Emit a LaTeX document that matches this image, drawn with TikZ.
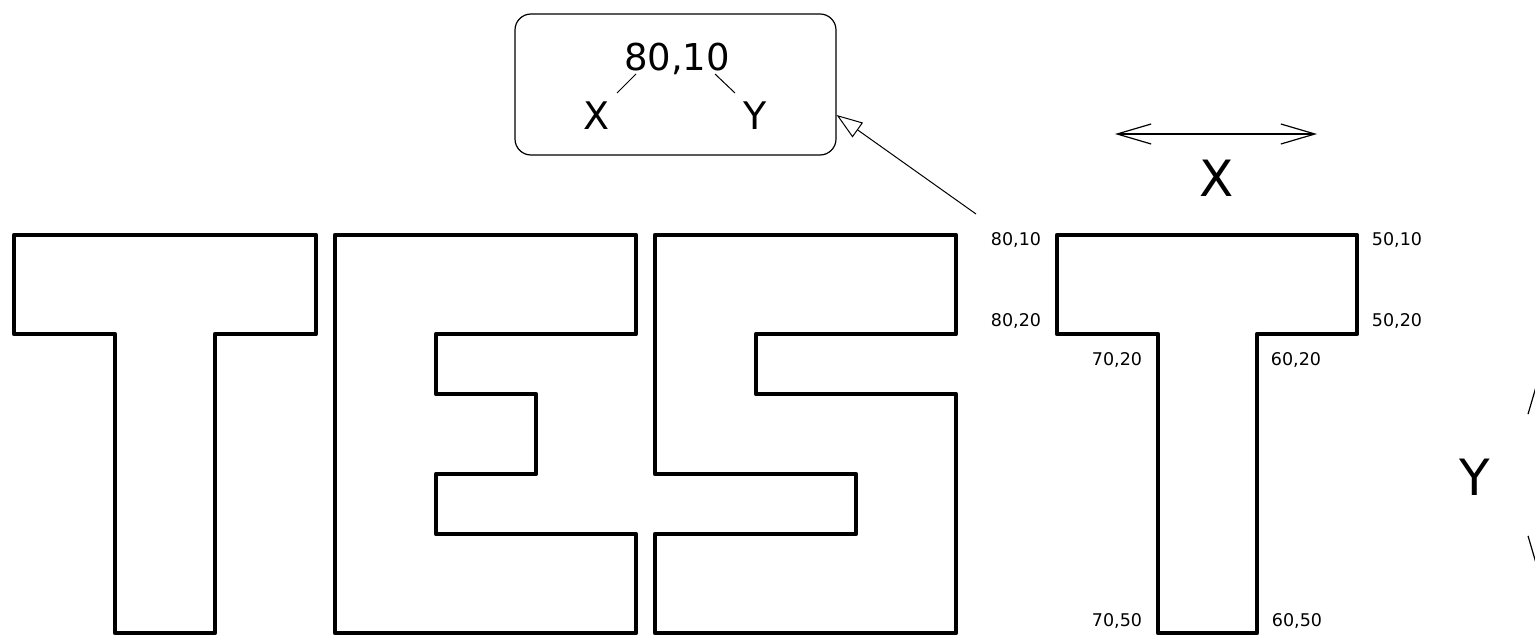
\documentclass[tikz,border=0pt]{standalone}
\usepackage{fontspec}
\setmainfont{DejaVu Sans}
\usetikzlibrary{arrows.meta}

\begin{document}
\begin{tikzpicture}[x=1bp, y=-1bp, every node/.style={inner sep=0pt}]
  \tikzstyle{lettre}=[line width=4.8bp, line join=round]
  \tikzstyle{fleche}=[line width=1bp, -{Triangle[open, length=26bp, width=18bp]}]
  \tikzstyle{axe}=[line width=1.2bp, {Straight Barb[length=34bp, width=20bp]}-{Straight Barb[length=34bp, width=20bp]}]
  \tikzstyle{petit}=[font=\fontsize{17.5bp}{20bp}\selectfont, anchor=base]
  \useasboundingbox (0,0) rectangle (1535,635);
  \clip (0,0) rectangle (1535,635);
  % lettres
  \draw[lettre] (14,235) -- (316,235) -- (316,334) -- (215,334) -- (215,633) -- (115,633) -- (115,334) -- (14,334) -- cycle;
  \draw[lettre] (335,235) -- (636,235) -- (636,334) -- (436,334) -- (436,394) -- (536,394) -- (536,474) -- (436,474)
    -- (436,534) -- (636,534) -- (636,633) -- (335,633) -- cycle;
  \draw[lettre] (655,235) -- (956,235) -- (956,334) -- (756,334) -- (756,394) -- (956,394) -- (956,633) -- (655,633)
    -- (655,534) -- (856,534) -- (856,474) -- (655,474) -- cycle;
  \draw[lettre] (1057,235) -- (1357,235) -- (1357,334) -- (1257,334) -- (1257,633) -- (1158,633) -- (1158,334) -- (1057,334) -- cycle;
  % bulle
  \node[draw, line width=1.2bp, rounded corners=16bp, minimum width=321bp, minimum height=141bp] (bulle) at (675.5,84.5) {};
  \node[anchor=base, font=\fontsize{37bp}{40bp}\selectfont] (valeur) at (677,71) {80,10};
  \node[anchor=base, font=\fontsize{38bp}{40bp}\selectfont] (bullex) at (597,130) {X};
  \node[anchor=base, font=\fontsize{38bp}{40bp}\selectfont] (bulley) at (755,130) {Y};
  \draw[line width=1bp] (636,74) -- (617,93);
  \draw[line width=1bp] (715,74) -- (735,93);
  \coordinate (depart) at (976,214);
  \draw[fleche] (depart) -- ([yshift=-30.5bp]bulle.east);
  % axes
  \coordinate (xg) at (1115,134); \coordinate (xd) at (1317,134);
  \draw[axe] (xg) -- (xd);
  \node[anchor=base, font=\fontsize{50bp}{54bp}\selectfont] (nomx) at (1217,197) {X};
  \coordinate (yh) at (1538,378); \coordinate (yb) at (1538,572);
  \draw[axe] (yh) -- (yb);
  \node[anchor=base, font=\fontsize{50bp}{54bp}\selectfont] (nomy) at (1475,495) {Y};
  % coordonnees
  \foreach \t/\x/\y [count=\i] in {{80,10}/1016/245, {80,20}/1016/326, {70,20}/1117/365, {60,20}/1296/365,
      {50,10}/1397/245, {50,20}/1397/326, {70,50}/1117/626, {60,50}/1297/626} {
    \node[petit] (coord\i) at (\x,\y) {\t};
  }
\end{tikzpicture}
\end{document}
